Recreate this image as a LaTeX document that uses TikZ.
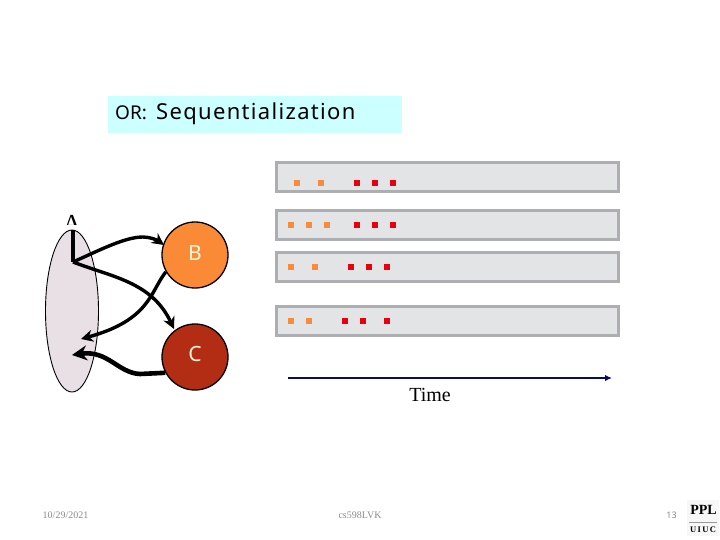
\documentclass[tikz,border=0pt]{standalone}
\usepackage{fontspec}
\setmainfont{Liberation Serif}
\newfontfamily\ttl{Noto Sans}
\newfontfamily\ttlsp[LetterSpace=6]{Noto Sans}
\usetikzlibrary{arrows.meta,shapes.geometric}
\definecolor{barfill}{HTML}{E3E4E6}
\definecolor{barline}{HTML}{ADAEB2}
\definecolor{sqo}{HTML}{FB8A3C}
\definecolor{sqr}{HTML}{E8000F}
\definecolor{orangeb}{HTML}{FB8A36}
\definecolor{redc}{HTML}{B22D14}
\definecolor{ellfill}{HTML}{E8E0E4}
\definecolor{titlefill}{HTML}{CCFFFF}
\definecolor{navyline}{HTML}{0A0A60}
\definecolor{foot}{HTML}{8A8A8A}
\definecolor{labelcol}{HTML}{FFF6D8}
\tikzset{
 barbox/.style={draw=barline,fill=barfill,line width=2.6pt,minimum width=342pt,minimum height=29.5pt,inner sep=0pt},
 osq/.style={fill=sqo,inner sep=0pt,minimum size=6pt},
 rsq/.style={fill=sqr,inner sep=0pt,minimum size=6pt},
 procnode/.style={circle,draw=black,line width=1.3pt,minimum size=66pt,inner sep=0pt},
 proclabel/.style={inner sep=0pt,text=labelcol,font=\ttl\fontsize{21}{21}\selectfont},
 thick arrow/.style={line width=3.4pt,-{Stealth[length=12pt,width=12pt]}},
 foottext/.style={text=foot,font=\fontsize{10}{12}\selectfont,inner sep=0pt},
}
\begin{document}
\begin{tikzpicture}[x=1pt,y=-1pt]
\useasboundingbox (0,0) rectangle (720,540);
\node[fill=titlefill,minimum width=294pt,minimum height=37pt,inner sep=0pt] (title) at (255,114.5) {};
\node[anchor=base west,inner sep=0pt,font=\ttl\fontsize{19}{19}\selectfont] (or) at (115,119.5) {OR:};
\node[anchor=base west,inner sep=0pt,font=\ttlsp\fontsize{22}{22}\selectfont] (seq) at (156,119.5) {Sequentialization};
% bars
\node[barbox] (b1) at (447.5,177) {};
\node[barbox] (b2) at (447.5,225) {};
\node[barbox] (b3) at (447.5,267) {};
\node[barbox] (b4) at (447.5,321) {};
\foreach \x [count=\i] in {297,321} \node[osq] (a\i) at (\x,183) {};
\foreach \x [count=\i] in {357,375,393} \node[rsq] (c\i) at (\x,183) {};
\foreach \x [count=\i] in {291,309,327} \node[osq] (d\i) at (\x,225) {};
\foreach \x [count=\i] in {357,375,393} \node[rsq] (e\i) at (\x,225) {};
\foreach \x [count=\i] in {291,315} \node[osq] (f\i) at (\x,267) {};
\foreach \x [count=\i] in {351,369,387} \node[rsq] (g\i) at (\x,267) {};
\foreach \x [count=\i] in {291,309} \node[osq] (h\i) at (\x,321) {};
\foreach \x [count=\i] in {345,363,387} \node[rsq] (k\i) at (\x,321) {};
% left graph
\begin{scope}
\clip (55,205) rectangle (90,225);
\node[anchor=base,inner sep=0pt,font=\fontsize{26}{26}\selectfont] (alabel) at (72,233) {A};
\end{scope}
\node[ellipse,draw=black,fill=ellfill,line width=0.9pt,minimum width=53pt,minimum height=162pt,inner sep=0pt] (ell) at (72,311) {};
\coordinate (top) at (73,230);
\coordinate (hub) at (73,262);
\coordinate (bin) at (164,245);
\coordinate (cin) at (174,329);
\coordinate (e1) at (81,339);
\coordinate (e2) at (72,355);
\node[procnode,fill=orangeb] (B) at (195,255) {};
\node[procnode,fill=redc] (C) at (195,357) {};
\node[proclabel] (Bt) at (195,253) {B};
\node[proclabel] (Ct) at (195,354) {C};
\draw[line width=3.6pt] (top) -- (hub);
\draw[thick arrow] (hub) .. controls (100,250) and (125,237) .. (143,237) .. controls (150,237) and (157,240) .. (bin);
\draw[thick arrow] (hub) .. controls (112,277) and (152,282) .. (cin);
\draw[thick arrow] (B.210) .. controls (150,292) and (150,320) .. (e1);
\draw[line width=4.6pt,-{Stealth[length=15pt,width=15pt]}] (C.208) -- (140,374) .. controls (118,373) and (108,350) .. (e2);
% time
\coordinate (t0) at (288,378);
\coordinate (t1) at (612,378);
\draw[navyline,line width=1.5pt,-{Latex[length=7pt,width=6.5pt]}] (t0) -- (t1);
\node[inner sep=0pt,font=\fontsize{20}{22}\selectfont] (time) at (430,394.5) {Time};
% footer
\node[foottext] (date) at (65.5,515.5) {10/29/2021};
\node[foottext] (course) at (360,515.5) {cs598LVK};
\node[foottext,font=\ttl\fontsize{9}{10}\selectfont] (page) at (671.5,515.5) {13};
\fill[black!3] (687,500) rectangle (719,536);
\node[inner sep=0pt,font=\bfseries\fontsize{14}{14}\selectfont] (ppl) at (703.5,509.5) {PPL};
\node[inner sep=0pt,font=\bfseries\fontsize{8.5}{9}\selectfont] (uiuc) at (703,530) {U\,I\,U\,C};
\coordinate (r0) at (689,522); \coordinate (r1) at (717,522);
\draw[black!40,line width=0.7pt] (r0) -- (r1);
\end{tikzpicture}
\end{document}
